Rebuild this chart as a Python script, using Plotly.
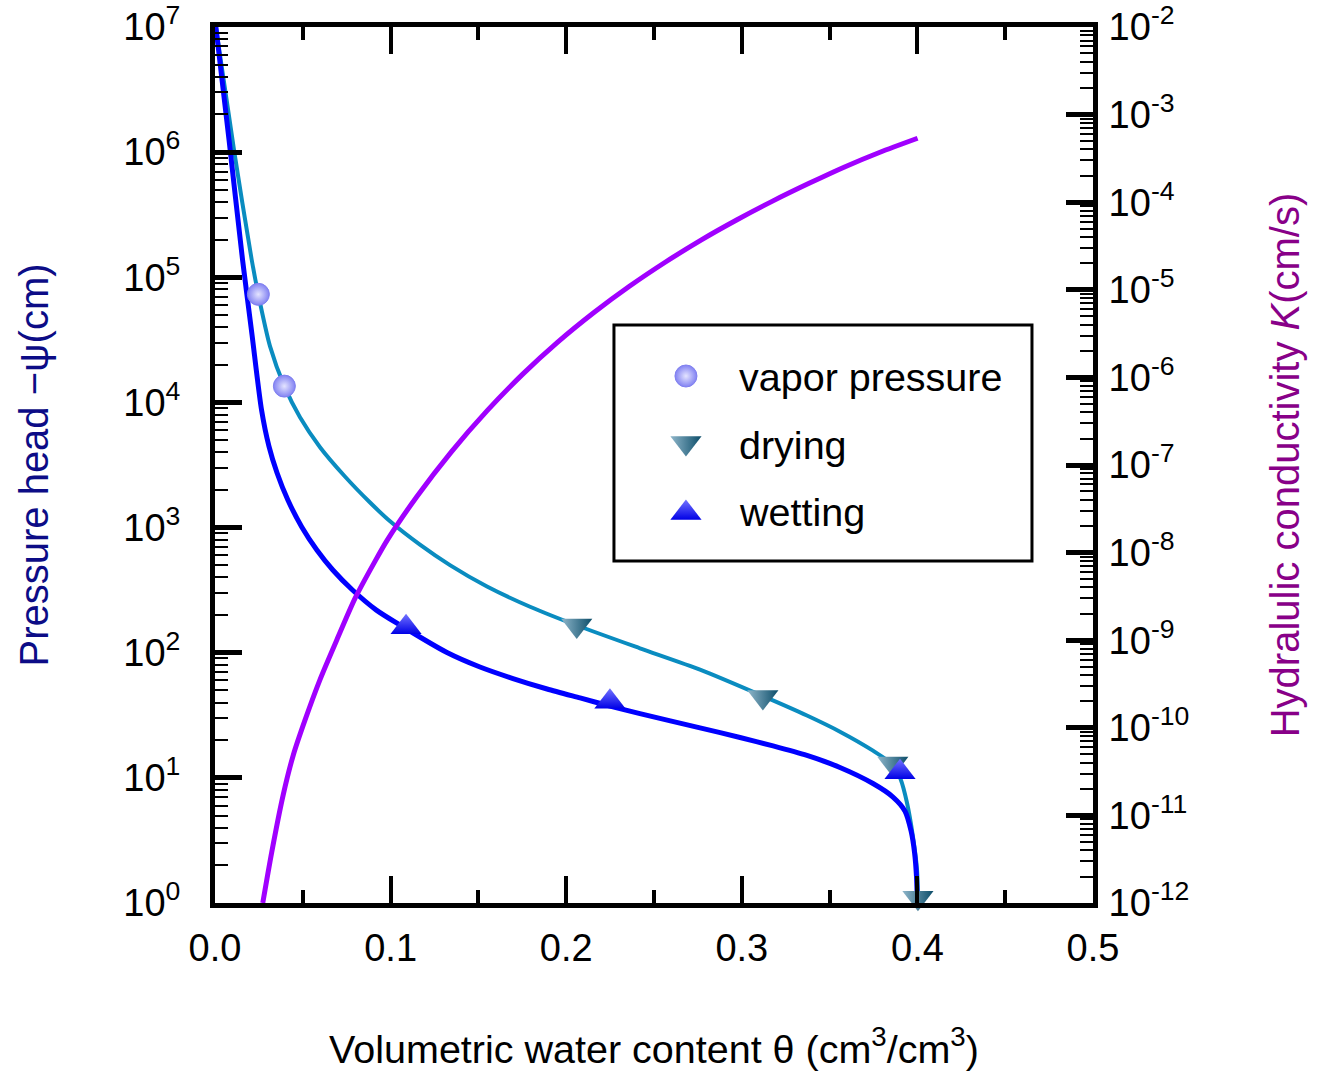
import plotly.graph_objects as go

# ---------------- data ----------------
theta_wet = [0.0005, 0.0080, 0.0157, 0.0211, 0.0265, 0.0307, 0.0353, 0.0415, 0.0494,
             0.0580, 0.0671, 0.0783, 0.0919, 0.1053, 0.1321, 0.1509, 0.1697, 0.1891,
             0.2079, 0.2249, 0.2420, 0.2762, 0.2990, 0.3178, 0.3371, 0.3559, 0.3747,
             0.3861, 0.3929, 0.3964, 0.3984, 0.3995, 0.4000]
psi_wet = [1.0e7, 1.25e6, 1.374e5, 3.46e4, 8710, 4470, 2740, 1660, 1012,
           662, 458, 317, 219, 166.5, 100.4, 76.9, 62.2, 51.3,
           43.5, 37.5, 32.6, 25.1, 21.0, 18.0, 15.1, 12.1, 9.01,
           7.03, 5.44, 3.76, 2.51, 1.61, 1.0]

theta_dry = [0.0005, 0.0110, 0.0209, 0.0247, 0.0313, 0.0395, 0.0484, 0.0598, 0.0740,
             0.0883, 0.0997, 0.1167, 0.1338, 0.1549, 0.1794, 0.2062, 0.2420, 0.2762,
             0.3121, 0.3371, 0.3559, 0.3747, 0.3861, 0.3904, 0.3941, 0.3975, 0.3998,
             0.4003]
psi_dry = [1.0e7, 1.0e6, 1.380e5, 7.24e4, 2.82e4, 1.349e4, 7600, 4385, 2559,
           1585, 1122, 730, 501, 338, 233, 165, 108.5, 73.3,
           45.0, 31.5, 23.4, 16.5, 12.7, 9.79, 6.30, 3.37, 1.84,
           1.0]

theta_K = [0.0272, 0.0323, 0.0389, 0.0446, 0.0513, 0.0598, 0.0693, 0.0798, 0.0911,
           0.0980, 0.1150, 0.1346, 0.1550, 0.1754, 0.1950, 0.2158, 0.2360, 0.2568,
           0.2770, 0.2973, 0.3178, 0.3383, 0.3582, 0.3787, 0.4001]
K_vals = [1.0e-12, 3.80e-12, 1.738e-11, 4.90e-11, 1.230e-10, 3.55e-10, 1.0e-9, 3.02e-9, 7.94e-9,
          1.380e-8, 4.37e-8, 1.413e-7, 4.17e-7, 1.096e-6, 2.51e-6, 5.50e-6, 1.096e-5, 2.09e-5,
          3.72e-5, 6.31e-5, 1.035e-4, 1.641e-4, 2.51e-4, 3.72e-4, 5.37e-4]

vap_theta = [0.0247, 0.0395]
vap_psi = [7.31e4, 1.35e4]
dry_theta = [0.2060, 0.3120, 0.3860, 0.4003]
dry_psi = [165, 44.3, 13.0, 1.1]
wet_theta = [0.1088, 0.2249, 0.3901]
wet_psi = [160, 40.5, 11.1]

legend_labels = ["vapor pressure", "drying", "wetting"]

x_ticks = [0.0, 0.1, 0.2, 0.3, 0.4, 0.5]
psi_exps = [0, 1, 2, 3, 4, 5, 6, 7]
K_exps = [-12, -11, -10, -9, -8, -7, -6, -5, -4, -3, -2]

# ---------------- styles ----------------
FONT = "Liberation Sans, Arial, Helvetica, sans-serif"
C_WET = "#0000ff"
C_DRY = "#0a8cc0"
C_K = "#a000ff"

fig = go.Figure()

fig.add_trace(go.Scatter(x=theta_dry, y=psi_dry, mode="lines",
                         line=dict(color=C_DRY, width=4, shape="spline", smoothing=0.7),
                         xaxis="x", yaxis="y", showlegend=False, hoverinfo="skip"))
fig.add_trace(go.Scatter(x=theta_wet, y=psi_wet, mode="lines",
                         line=dict(color=C_WET, width=5, shape="spline", smoothing=0.7),
                         xaxis="x", yaxis="y", showlegend=False, hoverinfo="skip"))

# markers
vap_marker = dict(symbol="circle", size=22, color="#8282f2",
                  gradient=dict(type="radial", color="#e4e4ff"),
                  line=dict(width=1, color="#8080f0"))
dry_marker = dict(symbol="triangle-down", size=27, color="#8fb6ca",
                  gradient=dict(type="horizontal", color="#0c4d69"),
                  line=dict(width=0))
wet_marker = dict(symbol="triangle-up", size=27, color="#7474ff",
                  gradient=dict(type="vertical", color="#0000e6"),
                  line=dict(width=0))

fig.add_trace(go.Scatter(x=vap_theta, y=vap_psi, mode="markers", marker=vap_marker,
                         xaxis="x", yaxis="y", showlegend=False, cliponaxis=False))
fig.add_trace(go.Scatter(x=dry_theta, y=dry_psi, mode="markers", marker=dry_marker,
                         xaxis="x", yaxis="y", showlegend=False, cliponaxis=False))
fig.add_trace(go.Scatter(x=wet_theta, y=wet_psi, mode="markers", marker=wet_marker,
                         xaxis="x", yaxis="y", showlegend=False, cliponaxis=False))

fig.add_trace(go.Scatter(x=theta_K, y=K_vals, mode="lines",
                         line=dict(color=C_K, width=5, shape="spline", smoothing=0.7),
                         xaxis="x", yaxis="y2", showlegend=False, hoverinfo="skip"))

# manual legend (markers on an invisible overlay axis spanning the plot area)
leg_mx = 0.5364
leg_rows = [0.6016, 0.5251, 0.4452]
leg_text_rows = [0.6010, 0.5225, 0.4460]
leg_markers = [vap_marker, dry_marker, wet_marker]
for yy, mk in zip(leg_rows, leg_markers):
    fig.add_trace(go.Scatter(x=[leg_mx], y=[yy], mode="markers", marker=mk,
                             xaxis="x2", yaxis="y3", showlegend=False, hoverinfo="skip"))
for yy, lab in zip(leg_text_rows, legend_labels):
    fig.add_annotation(x=0.5950, y=yy, xref="paper", yref="paper", text=lab,
                       showarrow=False, xanchor="left", yanchor="middle",
                       font=dict(family=FONT, size=39.5, color="black"))
fig.add_shape(type="rect", xref="paper", yref="paper", x0=0.4544, x1=0.9305,
              y0=0.3904, y1=0.6598, line=dict(color="black", width=3),
              fillcolor="rgba(0,0,0,0)")

tickfont = dict(family=FONT, size=38, color="black")

fig.update_layout(
    width=1320, height=1071,
    margin=dict(l=215, r=227, t=27, b=168, autoexpand=False),
    paper_bgcolor="white", plot_bgcolor="white",
    font=dict(family=FONT, size=38, color="black"),
    showlegend=False,
    xaxis=dict(
        range=[0, 0.5], tickvals=x_ticks, ticktext=[f"{v:.1f}" for v in x_ticks],
        ticks="inside", ticklen=27, tickwidth=4, tickcolor="black",
        showline=True, linewidth=5, linecolor="black", mirror="ticks",
        showgrid=False, zeroline=False, tickfont=tickfont, automargin=False,
        ticklabelstandoff=7,
        minor=dict(ticks="inside", ticklen=13, tickwidth=4, tickcolor="black", dtick=0.05, showgrid=False),
        title=dict(text="Volumetric water content θ (cm<sup>3</sup>/cm<sup>3</sup>)",
                   font=dict(family=FONT, size=39.5, color="black"), standoff=72),
    ),
    yaxis=dict(
        type="log", range=[0, 7],
        tickvals=[10 ** e for e in psi_exps],
        ticktext=[f"10<sup>{e}</sup>" for e in psi_exps],
        ticks="inside", ticklen=27, tickwidth=5, tickcolor="black",
        showline=True, linewidth=5, linecolor="black",
        showgrid=False, zeroline=False, tickfont=tickfont, automargin=False,
        ticklabelstandoff=22,
        minor=dict(ticks="inside", ticklen=13, tickwidth=2, tickcolor="black", dtick="D1", showgrid=False),
        title=dict(text="Pressure head −ψ(cm)",
                   font=dict(family=FONT, size=40, color="#0c0c86"), standoff=64),
    ),
    yaxis2=dict(
        type="log", range=[-12, -2], overlaying="y", side="right",
        tickvals=[10.0 ** e for e in K_exps],
        ticktext=[f"10<sup>{e}</sup>" for e in K_exps],
        ticks="inside", ticklen=27, tickwidth=5, tickcolor="black",
        showline=True, linewidth=5, linecolor="black",
        showgrid=False, zeroline=False, tickfont=tickfont, automargin=False,
        ticklabelstandoff=3,
        minor=dict(ticks="inside", ticklen=13, tickwidth=2, tickcolor="black", dtick="D1", showgrid=False),
        title=dict(text="Hydralulic conductivity <i>K</i>(cm/s)",
                   font=dict(family=FONT, size=40, color="#880088"), standoff=84),
    ),
    xaxis2=dict(overlaying="x", range=[0, 1], visible=False),
    yaxis3=dict(overlaying="y", range=[0, 1], visible=False),
)

fig.write_html("out.html")
